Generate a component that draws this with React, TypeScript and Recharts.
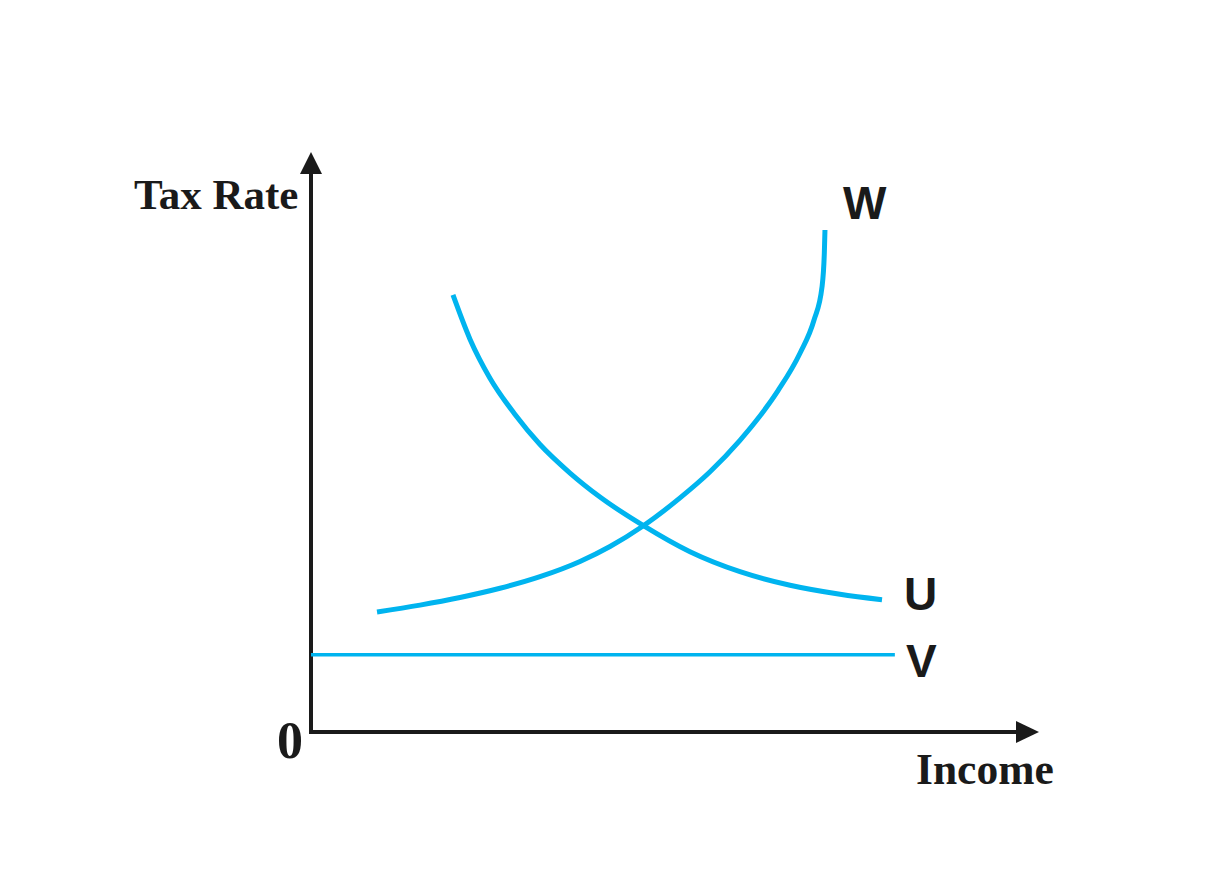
import React from "react";
import {
  LineChart,
  Line,
  XAxis,
  YAxis,
  ReferenceDot,
  ReferenceLine,
  Customized,
} from "recharts";

// curve W: rising tax rate with income
const wIncome = [9.35, 15.44, 21.1, 26.77, 32.44, 38.1, 42.35, 47.03, 52.27, 56.52, 60.76, 62.89, 66.15, 69.26, 71.25, 72.38, 72.71, 72.8];
const wRate = [21.47, 22.7, 24.06, 25.71, 27.78, 30.5, 33.18, 36.85, 41.88, 46.55, 52.18, 55.4, 61.07, 67.76, 73.7, 79.61, 85.69, 89.8];

// curve U: falling tax rate with income
const uIncome = [20.11, 22.52, 25.35, 28.9, 32.44, 36.69, 40.93, 47.03, 53.68, 60.76, 67.85, 74.93, 80.88];
const uRate = [78.18, 70.27, 63.29, 56.8, 51.43, 46.33, 42.04, 36.96, 32.25, 28.68, 26.26, 24.65, 23.67];

// line V: flat tax rate
const vIncome = [0, 82.7];
const vRate = [13.8, 13.8];

const curveLabels = ["W", "U", "V"];
const axisLabels = { y: "Tax Rate", x: "Income", origin: "0" };

const toPoints = (xs: number[], ys: number[]) =>
  xs.map((x, i) => ({ income: x, rate: ys[i] }));

const wData = toPoints(wIncome, wRate);
const uData = toPoints(uIncome, uRate);
const vData = toPoints(vIncome, vRate);

const BLUE = "#00b4ef";
const INK = "#1a1a1a";
const SERIF = "'Liberation Serif', 'Times New Roman', serif";
const SANS = "'Liberation Sans', Arial, sans-serif";

const RightArrow = (props: any) => {
  const { cx, cy } = props;
  return <path d={`M${cx - 1},${cy - 11} L${cx + 22},${cy} L${cx - 1},${cy + 11} Z`} fill={INK} />;
};

const UpArrow = (props: any) => {
  const { cx, cy } = props;
  return <path d={`M${cx - 11},${cy + 1} L${cx},${cy - 21} L${cx + 11},${cy + 1} Z`} fill={INK} />;
};

const Labels = () => (
  <g>
    <text x={134} y={209} fontFamily={SERIF} fontWeight="bold" fontSize={43} fill={INK}>
      {axisLabels.y}
    </text>
    <text x={277} y={758} fontFamily={SERIF} fontWeight="bold" fontSize={52} fill={INK}>
      {axisLabels.origin}
    </text>
    <text x={916} y={784} fontFamily={SERIF} fontWeight="bold" fontSize={43.5} fill={INK}>
      {axisLabels.x}
    </text>
    <text x={843} y={219} fontFamily={SANS} fontWeight="bold" fontSize={46} fill={INK}>
      {curveLabels[0]}
    </text>
    <text x={904} y={610} fontFamily={SANS} fontWeight="bold" fontSize={46} fill={INK}>
      {curveLabels[1]}
    </text>
    <text x={906} y={677} fontFamily={SANS} fontWeight="bold" fontSize={46} fill={INK}>
      {curveLabels[2]}
    </text>
  </g>
);

export default function App() {
  return (
    <div style={{ position: "absolute", left: 0, top: 0, background: "#fff" }}>
      <LineChart
        width={1210}
        height={892}
        margin={{ top: 173, right: 193, bottom: 160, left: 311 }}
      >
        <XAxis type="number" dataKey="income" domain={[0, 100]} allowDataOverflow hide />
        <YAxis type="number" dataKey="rate" domain={[0, 100]} allowDataOverflow hide />
        <ReferenceLine x={0} stroke={INK} strokeWidth={4} strokeLinecap="square" ifOverflow="visible" />
        <ReferenceLine y={0} stroke={INK} strokeWidth={4} strokeLinecap="square" ifOverflow="visible" />
        <Line
          data={vData}
          dataKey="rate"
          type="linear"
          stroke={BLUE}
          strokeWidth={3.5}
          dot={false}
          isAnimationActive={false}
        />
        <Line
          data={wData}
          dataKey="rate"
          type="monotone"
          stroke={BLUE}
          strokeWidth={5}
          dot={false}
          isAnimationActive={false}
        />
        <Line
          data={uData}
          dataKey="rate"
          type="monotone"
          stroke={BLUE}
          strokeWidth={5}
          dot={false}
          isAnimationActive={false}
        />
        <ReferenceDot x={100} y={0} r={0} shape={RightArrow} ifOverflow="visible" />
        <ReferenceDot x={0} y={100} r={0} shape={UpArrow} ifOverflow="visible" />
        <Customized component={<Labels />} />
      </LineChart>
    </div>
  );
}
